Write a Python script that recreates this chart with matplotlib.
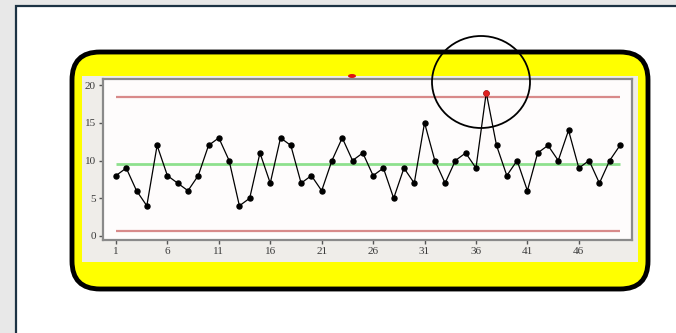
import matplotlib.pyplot as plt
from matplotlib.patches import FancyBboxPatch, Rectangle, Ellipse

# individuals chart data
sample = list(range(1, 51))
values = [8, 9, 6, 4, 12, 8, 7, 6, 8, 12,
          13, 10, 4, 5, 11, 7, 13, 12, 7, 8,
          6, 10, 13, 10, 11, 8, 9, 5, 9, 7,
          15, 10, 7, 10, 11, 9, 19, 12, 8, 10,
          6, 11, 12, 10, 14, 9, 10, 7, 10, 12]
ucl = 18.45
center = 9.55
lcl = 0.65
flagged = [37]
xticks = [1, 6, 11, 16, 21, 26, 31, 36, 41, 46]
yticks = [0, 5, 10, 15, 20]

W, H = 676, 333
fig = plt.figure(figsize=(W / 100, H / 100), dpi=100)
fig.patch.set_facecolor("#e8e8e8")

# slide / frame drawn in pixel space
bg = fig.add_axes([0, 0, 1, 1])
bg.set_xlim(0, W)
bg.set_ylim(H, 0)
bg.axis("off")
bg.add_patch(Rectangle((16, 6), W, H, facecolor="white", edgecolor="#1c3344", lw=1.6))
bg.add_patch(FancyBboxPatch((72 + 28, 52 + 28), 576 - 56, 237 - 56,
                            boxstyle="round,pad=28", facecolor="#ffff00",
                            edgecolor="black", lw=3.5))
bg.add_patch(Rectangle((82, 76), 556, 186, facecolor="#efede9", edgecolor="none"))
bg.add_patch(Ellipse((352, 76), 8, 4, facecolor="#dd1111", edgecolor="none"))

# the chart itself
ax = fig.add_axes([103 / W, (H - 240) / H, (632 - 103) / W, (240 - 79) / H])
ax.set_facecolor("#fefcfc")
ax.set_xlim(-0.26, 51.17)
ax.set_ylim(-0.53, 20.8)

ax.hlines([ucl, lcl], 1, 50, color="#d88a8a", lw=1.6)
ax.hlines(center, 1, 50, color="#8ee08e", lw=2.0)
ax.plot(sample, values, color="black", lw=0.9, marker="o", ms=3.6,
        mfc="black", mec="black")
for s in flagged:
    ax.plot(s, values[s - 1], "o", ms=3.6, color="#e02020")

ax.set_xticks(xticks)
ax.set_yticks(yticks)
ax.tick_params(direction="out", length=3, width=1, color="#555555",
               labelsize=8, labelcolor="#3a3a3a", pad=2)
for lab in ax.get_xticklabels() + ax.get_yticklabels():
    lab.set_family("Liberation Serif")
for sp in ax.spines.values():
    sp.set_color("#8a8a8a")
    sp.set_linewidth(1.6)

# hand-drawn circle around the out-of-control point, on top of everything
top = fig.add_axes([0, 0, 1, 1])
top.set_xlim(0, W)
top.set_ylim(H, 0)
top.axis("off")
top.patch.set_alpha(0)
top.add_patch(Ellipse((481, 82), 98, 92, facecolor="none", edgecolor="black", lw=1.3))

fig.savefig("out.png", dpi=100)
